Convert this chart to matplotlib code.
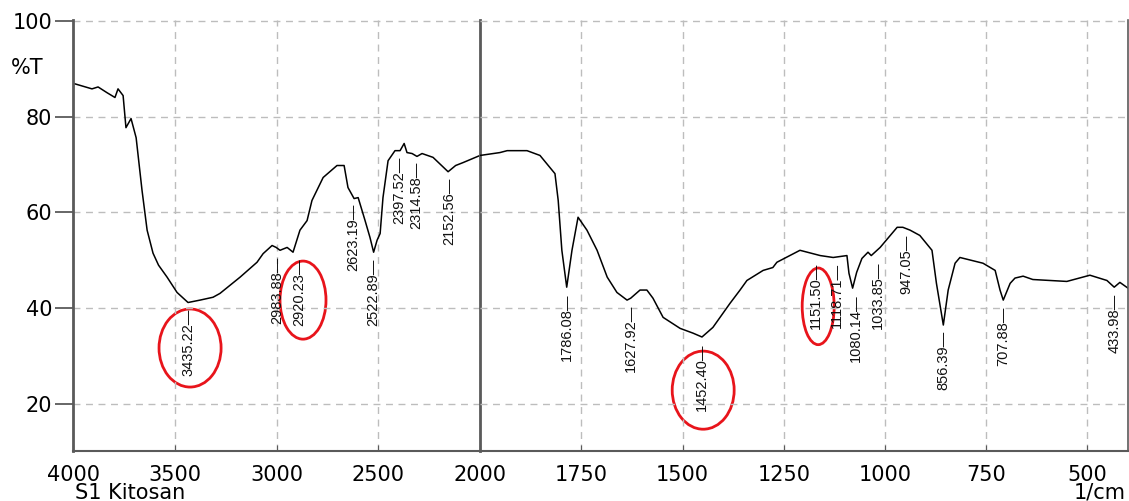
# FTIR spectrum of S1 Kitosan (%T vs wavenumber), split x scale at 2000 1/cm
import numpy as np
from matplotlib import pyplot as plt
from matplotlib.patches import Ellipse

# traced spectrum: wavenumber (1/cm) and transmittance (%T)
wavenumber = [3995, 3907, 3877, 3833, 3794, 3779, 3754, 3740, 3715, 3690,
              3661, 3636, 3607, 3580, 3538, 3489, 3435, 3376, 3312, 3278,
              3179, 3096, 3066, 3022, 3002, 2983, 2948, 2919, 2885, 2850,
              2826, 2771, 2703, 2668, 2649, 2619, 2599, 2565, 2541, 2523,
              2506, 2491, 2477, 2452, 2418, 2393, 2373, 2359, 2334, 2310,
              2285, 2231, 2157, 2120, 2084, 2000, 1951, 1933, 1884, 1852,
              1815, 1807, 1798, 1786, 1773, 1758, 1736, 1711, 1686, 1662,
              1637, 1628, 1605, 1588, 1573, 1548, 1506, 1474, 1452, 1425,
              1383, 1358, 1341, 1301, 1277, 1267, 1210, 1160, 1128, 1094,
              1089, 1080, 1070, 1057, 1042, 1034, 1012, 970, 956, 947,
              938, 914, 884, 873, 856, 844, 827, 815, 758, 728,
              716, 708, 691, 679, 659, 635, 551, 494, 452, 434,
              420, 400]
transmittance = [86.9, 85.8, 86.2, 85.0, 84.0, 85.8, 84.4, 77.7, 79.6, 75.6,
                 64.6, 56.3, 51.5, 49.0, 46.5, 43.3, 41.2, 41.7, 42.3, 43.1,
                 46.5, 49.6, 51.4, 53.1, 52.7, 52.1, 52.7, 51.7, 56.3, 58.3,
                 62.5, 67.3, 69.8, 69.8, 65.2, 62.9, 63.1, 58.3, 54.8, 51.7,
                 54.2, 55.6, 63.1, 70.8, 72.9, 72.9, 74.4, 72.5, 72.3, 71.7,
                 72.3, 71.5, 68.5, 69.8, 70.4, 71.9, 72.5, 72.9, 72.9, 71.9,
                 68.1, 62.5, 52.1, 44.4, 52.1, 59.0, 56.3, 52.1, 46.5, 43.3,
                 41.7, 42.1, 43.8, 43.8, 42.1, 38.1, 35.8, 34.8, 34.0, 36.0,
                 41.0, 43.8, 45.8, 47.9, 48.5, 49.6, 52.1, 51.0, 50.6, 51.0,
                 47.3, 44.2, 47.5, 50.4, 51.7, 51.0, 52.7, 56.9, 56.9, 56.6,
                 56.3, 55.2, 52.1, 45.2, 36.5, 43.8, 49.4, 50.6, 49.4, 47.9,
                 43.8, 41.7, 45.2, 46.3, 46.7, 46.0, 45.6, 46.9, 45.8, 44.4,
                 45.4, 44.2]

# marked peaks
peaks = [3435.22, 2983.88, 2920.23, 2623.19, 2522.89, 2397.52, 2314.58,
         2152.56, 1786.08, 1627.92, 1452.40, 1151.50, 1118.71, 1080.14,
         1033.85, 947.05, 856.39, 707.88, 433.98]

# highlighted peaks (red rings)
circled = [3435.22, 2920.23, 1452.40, 1151.50]

# layout tweaks (label nudges in 1/cm, ring centre/size)
label_shift = {2983.88: 14, 2920.23: -30, 1151.50: 20, 1080.14: -8, 1033.85: -15}
rings = {3435.22: (3425, 31.7, 305, 16.3),
         2920.23: (2870, 41.7, 226, 16.3),
         1452.40: (1449, 22.9, 153, 16.3),
         1151.50: (1165, 40.4, 79, 16.0)}

GRID = '#bdbdbd'
SPINE = '#5a5a5a'

fig = plt.figure(figsize=(11.29, 5.01), dpi=100)
ax1 = fig.add_axes([0.0647, 0.0998, 0.3605, 0.8605])
ax2 = fig.add_axes([0.4252, 0.0998, 0.5739, 0.8605], sharey=ax1)
ax2.patch.set_alpha(0)

wn = np.array(wavenumber)
tr = np.array(transmittance)
order = np.argsort(wn)

for ax in (ax1, ax2):
    ax.plot(wn, tr, color='black', lw=1.1)
    ax.set_ylim(10.2, 100.2)
    ax.set_yticks([20, 40, 60, 80, 100])
    ax.grid(True, color=GRID, ls=(0, (5, 4)), lw=1.0)
    ax.spines['top'].set_visible(False)
    for s in ('left', 'bottom', 'right'):
        ax.spines[s].set_color(SPINE)
    ax.tick_params(axis='x', direction='in', length=4, color=SPINE,
                   labelsize=15, pad=10)

ax1.set_xlim(4000, 2000)
ax1.set_xticks([4000, 3500, 3000, 2500, 2000])
ax1.spines['left'].set_linewidth(2)
ax1.spines['right'].set_linewidth(2)
ax1.spines['bottom'].set_linewidth(1.5)
ax1.tick_params(axis='y', direction='out', length=13, width=1.3,
                color=SPINE, labelsize=15, pad=2)

ax2.set_xlim(2000, 400)
ax2.set_xticks([1750, 1500, 1250, 1000, 750, 500])
ax2.spines['left'].set_visible(False)
ax2.spines['bottom'].set_linewidth(1.5)
ax2.spines['right'].set_linewidth(1.2)
ax2.tick_params(axis='y', left=False, labelleft=False)

# peak labels: rotated value with a leader dash, just under the curve
for p in peaks:
    ax = ax1 if p > 2000 else ax2
    y = np.interp(p, wn[order], tr[order]) - 1.3
    ax.text(p + label_shift.get(p, 0), y, f"{p:.2f}\u2014", rotation=90,
            ha='center', va='top', fontsize=10.5, color='#111111',
            family=['Liberation Sans Narrow', 'Liberation Sans'])

for p in circled:
    ax = ax1 if p > 2000 else ax2
    cx, cy, w, h = rings[p]
    ax.add_patch(Ellipse((cx, cy), w, h, fill=False, edgecolor='#e8141b',
                         lw=2, clip_on=False))

fig.text(0.01, 0.865, '%T', fontsize=15, va='center')
fig.text(0.066, 0.004, 'S1 Kitosan', fontsize=15)
fig.text(0.997, 0.004, '1/cm', fontsize=15, ha='right')

fig.savefig('out.png', dpi=100)
